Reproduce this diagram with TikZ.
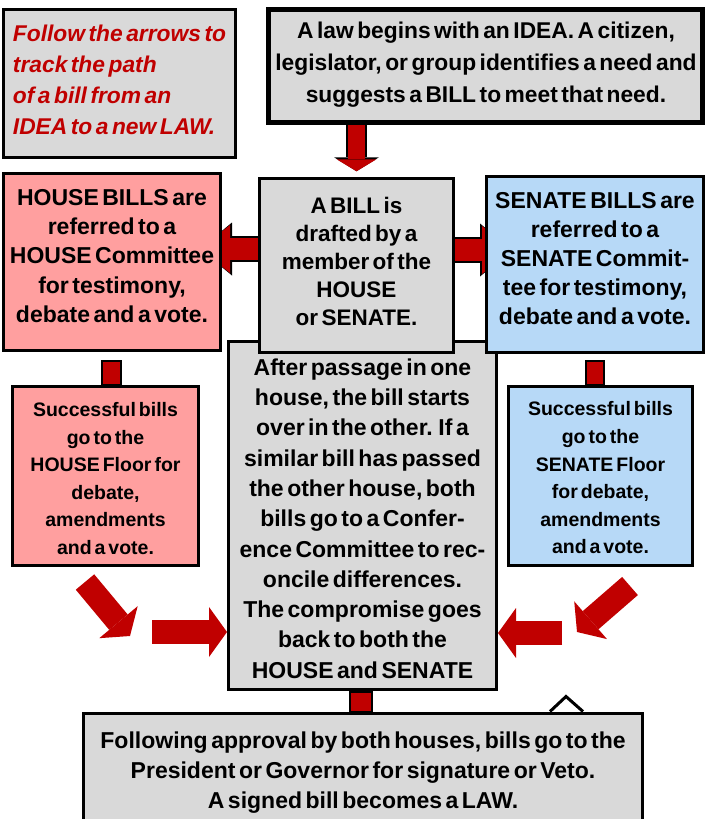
\documentclass[tikz,border=0pt]{standalone}
\usepackage{fontspec}
\setmainfont{Liberation Sans}[WordSpace=0.55]
\usetikzlibrary{arrows.meta,calc}
\pgfdeclarelayer{background}
\pgfsetlayers{background,main}

\definecolor{arrowred}{RGB}{192,0,0}
\definecolor{housepink}{RGB}{255,159,159}
\definecolor{senateblue}{RGB}{183,217,247}
\definecolor{panelgray}{RGB}{217,217,217}

\tikzset{
  panel/.style={draw=black, line width=3pt, fill=panelgray, inner sep=0pt},
  housepanel/.style={panel, fill=housepink},
  senatepanel/.style={panel, fill=senateblue},
  paneltext/.style={align=center, inner sep=0pt, font=\bfseries\fontsize{23}{29.2}\selectfont},
  floortext/.style={paneltext, font=\bfseries\fontsize{19.5}{27.6}\selectfont},
  sidearrow/.style={arrowred, line width=22pt, -{Triangle[length=30pt, width=48pt, line width=0pt]},
    preaction={draw=black, line width=26pt, -{Triangle[length=32pt, width=53pt, line width=0pt]}}},
  flowarrow/.style={arrowred, line width=24pt, -{Triangle[length=18pt, width=50pt, line width=0pt]}},
  stub/.style={draw=black, fill=arrowred, line width=2pt}
}

\begin{document}
\begin{tikzpicture}[x=1pt, y=-1pt]
\clip (0,0) rectangle (707,819);

% Middle column
\node[panel, minimum width=268, minimum height=348] (conf) at (362.5,515) {};
\node[paneltext, font=\bfseries\fontsize{23}{30.3}\selectfont] (conftext) at (362.5,518.5) {After passage in one\\ house, the bill starts\\ over in the other. If a\\ similar bill has passed\\ the other house, both\\ bills go to a Confer-\\ ence Committee to rec-\\ oncile differences.\\ The compromise goes\\ back to both the\\ HOUSE and SENATE};
\node[panel, line width=2.5pt, minimum width=194, minimum height=174] (bill) at (356.5,265.5) {};
\node[paneltext, font=\bfseries\fontsize{22.5}{28}\selectfont] (billtext) at (356.5,261.5) {A BILL is\\ drafted by a\\ member of the\\ HOUSE\\ or SENATE.};
\node[panel, line width=5pt, minimum width=434, minimum height=113] (idea) at (485.5,66) {};
\node[paneltext, font=\bfseries\fontsize{22.8}{32}\selectfont] (ideatext) at (486,65) {A law begins with an IDEA. A citizen,\\ legislator, or group identifies a need and\\ suggests a BILL to meet that need.};
\node[panel, minimum width=232, minimum height=148] (tip) at (119.5,83.5) {};
\node[paneltext, align=left, text=arrowred, font=\bfseries\itshape\fontsize{22.8}{31}\selectfont] (tiptext) at (119.5,80) {Follow the arrows to\\ track the path\\ of a bill from an\\ IDEA to a new LAW.};

% House and Senate
\node[housepanel, minimum width=217, minimum height=177] (house) at (112,262) {};
\node[paneltext] (housetext) at (112,256) {HOUSE BILLS are\\ referred to a\\ HOUSE Committee\\ for testimony,\\ debate and a vote.};
\node[senatepanel, minimum width=217, minimum height=176] (senate) at (595,264.5) {};
\node[paneltext] (senatetext) at (595,258.5) {SENATE BILLS are\\ referred to a\\ SENATE Commit-\\ tee for testimony,\\ debate and a vote.};
\node[housepanel, minimum width=186, minimum height=179] (hfloor) at (105.5,476) {};
\node[floortext] (hfloortext) at (105.5,478.5) {Successful bills\\ go to the\\ HOUSE Floor for\\ debate,\\ amendments\\ and a vote.};
\node[senatepanel, minimum width=184, minimum height=179] (sfloor) at (600.5,476) {};
\node[floortext] (sfloortext) at (600.5,478) {Successful bills\\ go to the\\ SENATE Floor\\ for debate,\\ amendments\\ and a vote.};

% Last step
\node[panel, minimum width=559, minimum height=114] (law) at (363,770) {};
\node[paneltext, font=\bfseries\fontsize{23}{30}\selectfont] (lawtext) at (363,772.5) {Following approval by both houses, bills go to the\\ President or Governor for signature or Veto.\\ A signed bill becomes a LAW.};

% free ends of the arrows
\coordinate (bw) at ($(bill.west)+(0,-16.5)$);
\coordinate (be) at ($(bill.east)+(0,-15.5)$);
\coordinate (hd) at (85,582);
\coordinate (hdend) at (130,636);
\coordinate (hh) at (152,632);
\coordinate (sd) at (630,586);
\coordinate (sdend) at (577,632);
\coordinate (sh) at (562,633);

\begin{pgfonlayer}{background}
% arrows out of the idea and the bill
\draw[arrowred, line width=17pt, -{Triangle[length=12pt, width=40pt, line width=0pt]},
  preaction={draw=black, line width=21pt, -{Triangle[length=14pt, width=45pt, line width=0pt]}},
  shorten >=6pt] (idea.south -| bill.north) -- (bill.north);
\draw[sidearrow, shorten >=-22pt] (bw) -- (bw -| house.east);
\draw[sidearrow, shorten >=-27pt] (be) -- (be -| senate.west);

% committee to floor
\draw[stub] ($(hfloor.north)+(-3.5,0)$) rectangle ++(19,-24);
\draw[stub] ($(sfloor.north)+(-14.5,0)$) rectangle ++(18,-24);

% floors to the conference box
\draw[flowarrow] (hd) -- (hdend);
\draw[flowarrow] (hh) -- (hh -| conf.west);
\draw[flowarrow] (sd) -- (sdend);
\draw[flowarrow] (sh) -- (sh -| conf.east);

% conference box to the last step
\draw[stub] ($(law.north)+(-13,0)$) rectangle ++(22,-20);
\draw[line width=3pt] ($(law.north)+(187,0)$) -- ++(16,-15) -- ++(17,15);
\end{pgfonlayer}
\end{tikzpicture}
\end{document}
